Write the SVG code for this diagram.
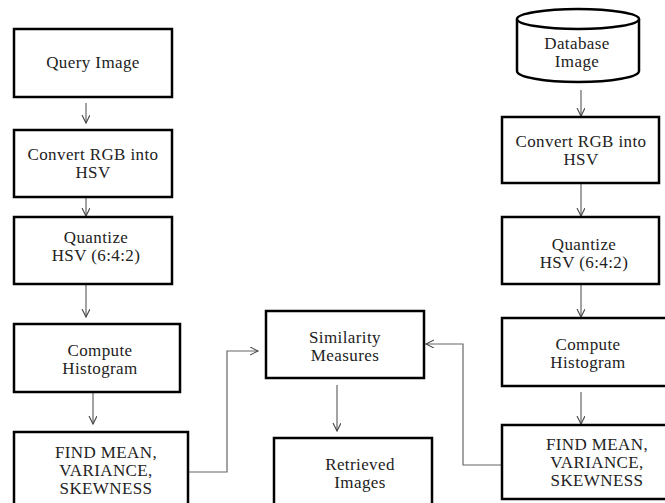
<svg xmlns="http://www.w3.org/2000/svg" width="665" height="503" viewBox="0 0 665 503">
<style>
.box{fill:#fff;stroke:#000;stroke-width:2.5}
.t{font-family:"Liberation Serif","Times New Roman",serif;font-size:17px;letter-spacing:0.4px;fill:#222;text-anchor:middle}
.c{fill:none;stroke:#666;stroke-width:1.2}
</style>
<defs>
<marker id="ah" markerWidth="10" markerHeight="10" refX="8" refY="4" orient="auto" markerUnits="userSpaceOnUse">
<path d="M0,0 L8,4 L0,8" fill="none" stroke="#444" stroke-width="1.1"/>
</marker>
</defs>
<rect width="665" height="503" fill="#fff"/>
<g id="connectors">
<line class="c" x1="86" y1="103" x2="86" y2="123" marker-end="url(#ah)"/>
<line class="c" x1="86" y1="198" x2="86" y2="216" marker-end="url(#ah)"/>
<line class="c" x1="86" y1="285" x2="86" y2="317" marker-end="url(#ah)"/>
<line class="c" x1="93" y1="393" x2="93" y2="424" marker-end="url(#ah)"/>
<polyline class="c" points="188,472 227,472 227,351 258,351" marker-end="url(#ah)"/>
<line class="c" x1="337" y1="385" x2="337" y2="431" marker-end="url(#ah)"/>
<line class="c" x1="581" y1="90" x2="581" y2="116" marker-end="url(#ah)"/>
<line class="c" x1="581" y1="184" x2="581" y2="216" marker-end="url(#ah)"/>
<line class="c" x1="581" y1="285" x2="581" y2="317" marker-end="url(#ah)"/>
<line class="c" x1="581" y1="392" x2="581" y2="424" marker-end="url(#ah)"/>
<polyline class="c" points="502,465 463,465 463,344 426,344" marker-end="url(#ah)"/>
</g>
<g id="query-image">
<rect class="box" x="14" y="29" width="158" height="68"/>
<text class="t" x="93" y="68">Query Image</text>
</g>
<g id="convert-left">
<rect class="box" x="14" y="130" width="158" height="67"/>
<text class="t" x="93" y="160">Convert RGB into</text>
<text class="t" x="93" y="178">HSV</text>
</g>
<g id="quantize-left">
<rect class="box" x="14" y="217" width="158" height="67"/>
<text class="t" x="96" y="243">Quantize</text>
<text class="t" x="96" y="261">HSV (6:4:2)</text>
</g>
<g id="histogram-left">
<rect class="box" x="14" y="324" width="166" height="68"/>
<text class="t" x="100" y="356">Compute</text>
<text class="t" x="100" y="374">Histogram</text>
</g>
<g id="stats-left">
<rect class="box" x="14" y="432" width="174" height="80"/>
<text class="t" x="106" y="458">FIND MEAN,</text>
<text class="t" x="106" y="476">VARIANCE,</text>
<text class="t" x="106" y="494">SKEWNESS</text>
</g>
<g id="similarity">
<rect class="box" x="266" y="311" width="158" height="67"/>
<text class="t" x="345" y="343">Similarity</text>
<text class="t" x="345" y="361">Measures</text>
</g>
<g id="retrieved">
<rect class="box" x="274" y="438" width="158" height="74"/>
<text class="t" x="360" y="470">Retrieved</text>
<text class="t" x="360" y="488">Images</text>
</g>
<g id="database-image">
<path class="box" d="M517,19 L517,71 A61,11 0 0 0 639,71 L639,19"/>
<ellipse class="box" cx="578" cy="19" rx="61" ry="10"/>
<text class="t" x="577" y="49">Database</text>
<text class="t" x="577" y="67">Image</text>
</g>
<g id="convert-right">
<rect class="box" x="502" y="117" width="157" height="66"/>
<text class="t" x="581" y="147">Convert RGB into</text>
<text class="t" x="581" y="165">HSV</text>
</g>
<g id="quantize-right">
<rect class="box" x="502" y="217" width="157" height="67"/>
<text class="t" x="584" y="250">Quantize</text>
<text class="t" x="584" y="268">HSV (6:4:2)</text>
</g>
<g id="histogram-right">
<rect class="box" x="502" y="318" width="170" height="68"/>
<text class="t" x="588" y="350">Compute</text>
<text class="t" x="588" y="368">Histogram</text>
</g>
<g id="stats-right">
<rect class="box" x="502" y="425" width="170" height="74"/>
<text class="t" x="597" y="450">FIND MEAN,</text>
<text class="t" x="597" y="468">VARIANCE,</text>
<text class="t" x="597" y="486">SKEWNESS</text>
</g>
</svg>
